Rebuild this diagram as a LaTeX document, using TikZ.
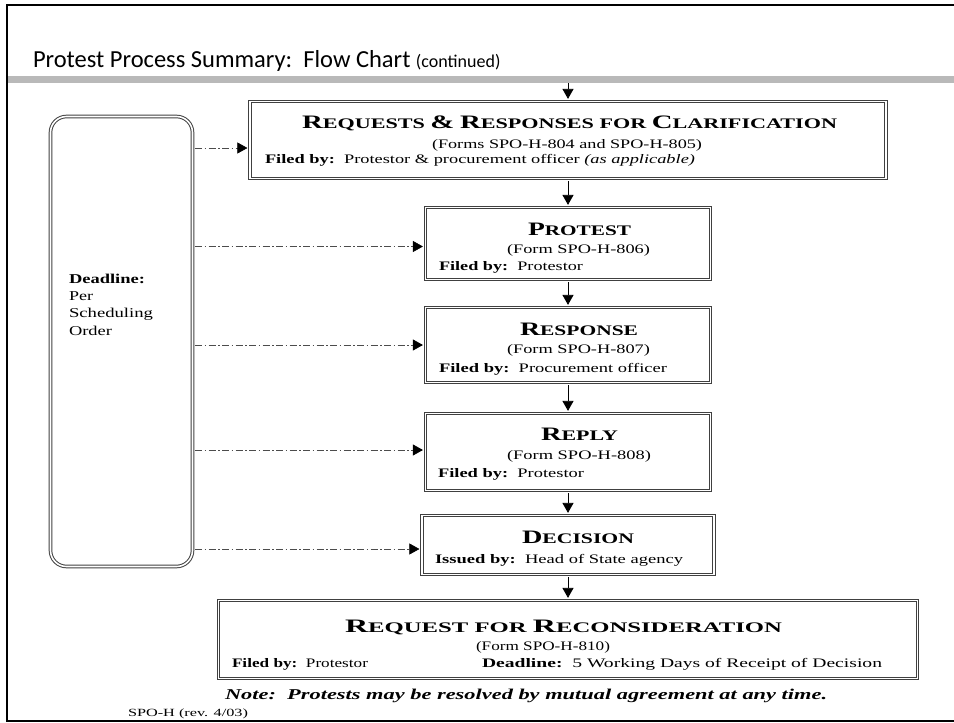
\documentclass[tikz,border=0pt]{standalone}
\usepackage{fontspec}
\usepackage{graphicx}
\setmainfont{Liberation Serif}
\newfontfamily\titlefont{Carlito}
\usetikzlibrary{arrows.meta}
\newcommand\fitw[2]{\resizebox{#1pt}{\height}{#2}}
\newcommand\bigc[1]{{\fontsize{19}{19}\selectfont\bfseries #1}}
\newcommand\smc[1]{{\fontsize{14.6}{14.6}\selectfont\bfseries #1}}
\tikzset{
  box/.style={draw=black!75, line width=1pt, double=white, double distance=1.6pt, inner sep=0pt, outer sep=2.6pt},
  txt/.style={anchor=base west, inner sep=0pt, outer sep=0pt},
  body/.style={txt, font=\fontsize{13}{15}\selectfont},
  varrow/.style={line width=0.8pt, -{Triangle[length=10pt,width=11pt]}},
  darrow/.style={line width=0.6pt, black!70, dash pattern=on 7pt off 2.5pt on 1.5pt off 2.5pt, -{Triangle[length=10pt,width=11pt,black]}}
}
\begin{document}
\begin{tikzpicture}[x=1pt,y=-1pt]
\useasboundingbox (0,0) rectangle (954,723);
% frame and title bar
\fill[gray!55] (7,76) rectangle (958,83);
\draw[line width=2pt] (960,5) -- (7,5) -- (7,721) -- (960,721);
\node[txt] (title) at (33,67) {\titlefont\fontsize{24.5}{24.5}\selectfont Protest Process Summary:\ \ Flow Chart {\fontsize{18}{18}\selectfont (continued)}};
\coordinate (top) at (568,83);
% boxes
\node[box, minimum width=636pt, minimum height=77pt] (b1) at (568,140) {};
\node[box, minimum width=285pt, minimum height=72pt] (b2) at (568,243.5) {};
\node[box, minimum width=285pt, minimum height=75pt] (b3) at (568,345) {};
\node[box, minimum width=285pt, minimum height=77pt] (b4) at (568,452) {};
\node[box, minimum width=292pt, minimum height=59pt] (b5) at (568,545) {};
\node[box, minimum width=699pt, minimum height=78pt] (b6) at (568,639.5) {};
\node[box, rounded corners=16pt, minimum width=142pt, minimum height=450pt] (dl) at (121.5,341.5) {};
% box 1 text
\node[txt] (h1) at (302,128) {\fitw{535}{\bigc{R}\smc{EQUESTS }\bigc{\&}\smc{ }\bigc{R}\smc{ESPONSES FOR }\bigc{C}\smc{LARIFICATION}}};
\node[body] (f1) at (432,148) {\fitw{270}{(Forms SPO-H-804 and SPO-H-805)}};
\node[body] (by1) at (265,163) {\fitw{430}{\textbf{Filed by:}\ \ Protestor \& procurement officer \textit{(as applicable)}}};
% box 2
\node[txt] (h2) at (528,235) {\fitw{103}{\bigc{P}\smc{ROTEST}}};
\node[body] (f2) at (507,253) {\fitw{143}{(Form SPO-H-806)}};
\node[body] (by2) at (439,270) {\fitw{144}{\textbf{Filed by:}\ \ Protestor}};
% box 3
\node[txt] (h3) at (520,335) {\fitw{118}{\bigc{R}\smc{ESPONSE}}};
\node[body] (f3) at (507,353) {\fitw{143}{(Form SPO-H-807)}};
\node[body] (by3) at (439,372) {\fitw{228}{\textbf{Filed by:}\ \ Procurement officer}};
% box 4
\node[txt] (h4) at (541,440) {\fitw{77}{\bigc{R}\smc{EPLY}}};
\node[body] (f4) at (507,459) {\fitw{144}{(Form SPO-H-808)}};
\node[body] (by4) at (438,477) {\fitw{146}{\textbf{Filed by:}\ \ Protestor}};
% box 5
\node[txt] (h5) at (522,543) {\fitw{112}{\bigc{D}\smc{ECISION}}};
\node[body] (by5) at (435,563) {\fitw{248}{\textbf{Issued by:}\ \ Head of State agency}};
% box 6
\node[txt] (h6) at (345,632) {\fitw{437}{\bigc{R}\smc{EQUEST FOR }\bigc{R}\smc{ECONSIDERATION}}};
\node[body] (f6) at (476,650) {\fitw{134}{(Form SPO-H-810)}};
\node[body] (by6) at (232,667) {\fitw{136}{\textbf{Filed by:}\ \ Protestor}};
\node[body] (dd6) at (482,667) {\fitw{400}{\textbf{Deadline:}\ \ 5 Working Days of Receipt of Decision}};
% note and footer
\node[txt, font=\fontsize{15}{15}\selectfont] (note) at (225,699) {\fitw{602}{\textbf{\textit{Note:\ \ Protests may be resolved by mutual agreement at any time.}}}};
\node[txt, font=\fontsize{11}{11}\selectfont] (foot) at (128,716) {\fitw{120}{SPO-H (rev. 4/03)}};
% deadline box text
\node[txt, font=\fontsize{13.5}{13.5}\selectfont] (d1) at (69,283) {\fitw{76}{\textbf{Deadline:}}};
\node[txt, font=\fontsize{13.5}{13.5}\selectfont] (d2) at (69,300) {\fitw{24}{Per}};
\node[txt, font=\fontsize{13.5}{13.5}\selectfont] (d3) at (69,317) {\fitw{84}{Scheduling}};
\node[txt, font=\fontsize{13.5}{13.5}\selectfont] (d4) at (69,335) {\fitw{43}{Order}};
% vertical arrows
\draw[varrow] (top) -- (b1.north);
\draw[varrow] (b1.south) -- (b2.north);
\draw[varrow] (b2.south) -- (b3.north);
\draw[varrow] (b3.south) -- (b4.north);
\draw[varrow] (b4.south) -- (b5.north);
\draw[varrow] (b5.south) -- (b6.north);
% dash-dot arrows
\draw[darrow] ([yshift=-8pt]dl.east |- b1.west) -- ([yshift=-8pt]b1.west);
\draw[darrow] ([yshift=-3pt]dl.east |- b2.west) -- ([yshift=-3pt]b2.west);
\draw[darrow] (dl.east |- b3.west) -- (b3.west);
\draw[darrow] ([yshift=2pt]dl.east |- b4.west) -- ([yshift=2pt]b4.west);
\draw[darrow] ([yshift=-4pt]dl.east |- b5.west) -- ([yshift=-4pt]b5.west);
\end{tikzpicture}
\end{document}
